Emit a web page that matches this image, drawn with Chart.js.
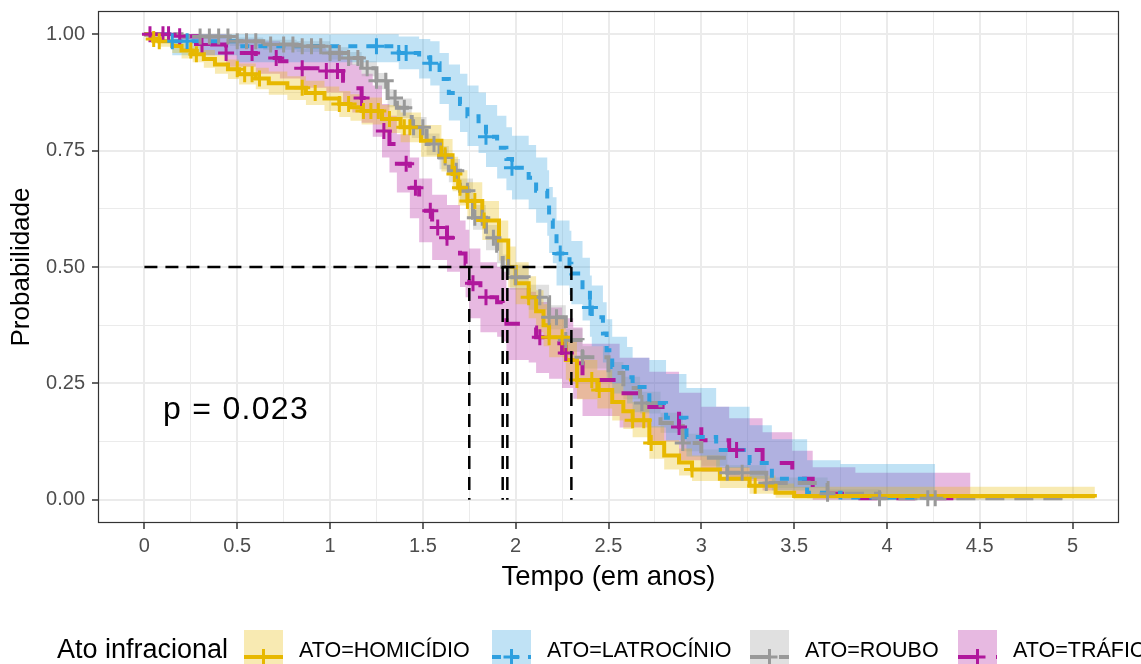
<!DOCTYPE html>
<html>
<head>
<meta charset="utf-8">
<title>Curvas de sobrevivência por ato infracional</title>
<script src="https://cdn.jsdelivr.net/npm/chart.js@4.4.1/dist/chart.umd.min.js"></script>
<style>
  html, body { margin: 0; padding: 0; background: #fff; }
  #wrap { width: 1141px; height: 664px; }
</style>
</head>
<body>
<div id="wrap"><canvas id="kmChart" width="1141" height="664"></canvas></div>
<script>
// Dados (tempo em anos, probabilidade de sobrevivência)
const groupLabels = ['ATO=HOMICÍDIO', 'ATO=LATROCÍNIO', 'ATO=ROUBO', 'ATO=TRÁFICO'];

const homTime  = [0, 0.04, 0.08, 0.15, 0.20, 0.26, 0.32, 0.38, 0.45, 0.51, 0.60, 0.67, 0.77, 0.87, 0.97, 1.05, 1.11, 1.17, 1.28, 1.38, 1.49, 1.60, 1.66, 1.69, 1.74, 1.82, 1.91, 1.96, 2.00, 2.07, 2.11, 2.15, 2.18, 2.27, 2.33, 2.44, 2.52, 2.58, 2.63, 2.72, 2.80, 2.88, 2.95, 3.10, 3.26, 3.40, 3.50, 5.12];
const homSurv  = [1, .99, .985, .975, .965, .957, .947, .935, .925, .914, .905, .895, .885, .874, .862, .85, .843, .835, .818, .80, .771, .74, .70, .67, .642, .60, .557, .50, .465, .435, .405, .375, .349, .30, .257, .236, .21, .19, .171, .122, .095, .08, .065, .045, .03, .015, .008, .005];
const homUpper = [1, 1, .995, .99, .983, .975, .966, .955, .946, .937, .928, .92, .91, .90, .888, .878, .871, .864, .848, .832, .805, .775, .737, .708, .682, .642, .60, .544, .51, .48, .45, .42, .394, .344, .30, .278, .25, .23, .21, .158, .128, .11, .095, .07, .052, .035, .028, .028];
const homLower = [1, .98, .973, .96, .948, .94, .928, .915, .904, .892, .882, .87, .859, .848, .835, .822, .814, .806, .788, .768, .737, .705, .663, .632, .602, .558, .514, .456, .42, .39, .36, .33, .306, .258, .216, .196, .17, .152, .134, .088, .065, .052, .04, .025, .013, .004, .001, 0];
const homCens  = [0.05, 0.08, 0.25, 0.28, 0.50, 0.54, 0.58, 0.62, 0.85, 0.92, 1.05, 1.10, 1.18, 1.22, 1.26, 1.32, 1.40, 1.43, 1.62, 1.67, 1.70, 1.74, 1.78, 1.83, 2.07, 2.18, 2.25, 2.33, 2.41, 2.45, 2.63, 2.69, 2.73, 2.95, 3.29];

const latTime  = [0, 0.15, 0.5, 1.37, 1.48, 1.54, 1.59, 1.64, 1.70, 1.74, 1.80, 1.84, 1.90, 1.95, 1.98, 2.07, 2.11, 2.17, 2.18, 2.20, 2.22, 2.29, 2.30, 2.36, 2.40, 2.41, 2.47, 2.49, 2.52, 2.60, 2.63, 2.72, 2.81, 2.92, 3.08, 3.26, 3.38, 3.57, 3.75, 4.26];
const latSurv  = [1, .985, .974, .96, .95, .938, .904, .874, .85, .824, .809, .78, .756, .732, .713, .692, .664, .636, .60, .578, .529, .507, .486, .45, .413, .392, .357, .321, .285, .263, .242, .208, .176, .135, .107, .079, .045, .015, .005, .005];
const latUpper = [1, 1, 1, .995, .99, .985, .96, .935, .915, .89, .875, .848, .825, .80, .782, .762, .735, .708, .672, .65, .60, .578, .556, .52, .482, .46, .424, .388, .35, .328, .305, .30, .27, .24, .20, .16, .13, .085, .077, .077];
const latLower = [1, .955, .94, .925, .905, .89, .85, .815, .79, .76, .745, .715, .69, .665, .645, .624, .595, .567, .53, .508, .46, .44, .42, .385, .35, .33, .295, .262, .228, .207, .188, .155, .127, .093, .068, .045, .02, .003, 0, 0];
const latCens  = [0.15, 0.23, 1.25, 1.37, 1.41, 1.54, 1.84, 1.98, 2.24, 2.40];

const roubTime  = [0, 0.2, 0.46, 0.64, 0.82, 1.0, 1.10, 1.17, 1.25, 1.31, 1.36, 1.44, 1.52, 1.59, 1.64, 1.70, 1.77, 1.84, 1.90, 1.93, 1.97, 2.07, 2.18, 2.27, 2.36, 2.50, 2.58, 2.67, 2.78, 2.90, 3.0, 3.14, 3.35, 3.68, 3.96, 4.95];
const roubSurv  = [1, .995, .985, .978, .974, .96, .949, .927, .90, .863, .842, .80, .764, .735, .707, .664, .606, .563, .535, .50, .478, .435, .392, .343, .306, .272, .24, .208, .165, .122, .09, .058, .036, .013, .003, .003];
const roubUpper = [1, 1, .993, .988, .985, .972, .962, .942, .917, .882, .862, .822, .787, .76, .732, .69, .633, .59, .562, .527, .505, .462, .418, .368, .33, .296, .264, .232, .187, .142, .108, .074, .048, .022, .009, .009];
const roubLower = [1, .99, .975, .967, .962, .946, .934, .91, .882, .843, .82, .777, .74, .71, .682, .638, .58, .536, .508, .473, .451, .408, .366, .318, .282, .25, .216, .185, .144, .104, .073, .045, .025, .005, 0, 0];
const roubCens  = [0.3, 0.35, 0.4, 0.45, 0.5, 0.55, 0.6, 0.68, 0.75, 0.8, 0.85, 0.9, 0.95, 1.0, 1.05, 1.1, 1.15, 1.2, 1.25, 1.3, 1.35, 1.4, 1.45, 1.5, 1.56, 1.62, 1.68, 1.74, 1.78, 1.82, 1.88, 1.96, 2.0, 2.13, 2.18, 2.22, 2.27, 2.36, 2.68, 2.9, 3.14, 3.22, 3.35, 3.68, 3.96, 4.22, 4.26];

const trafTime  = [0, 0.19, 0.31, 0.44, 0.60, 0.73, 0.84, 0.98, 1.07, 1.12, 1.17, 1.23, 1.28, 1.32, 1.36, 1.43, 1.48, 1.55, 1.63, 1.70, 1.73, 1.75, 1.81, 1.90, 1.93, 1.95, 2.07, 2.11, 2.18, 2.25, 2.31, 2.36, 2.56, 2.72, 2.88, 3.0, 3.15, 3.33, 3.49, 3.60, 3.83, 4.45];
const trafSurv  = [1, .996, .978, .96, .949, .942, .927, .921, .90, .884, .863, .835, .792, .764, .722, .67, .621, .585, .563, .529, .507, .465, .435, .424, .413, .378, .37, .349, .336, .315, .293, .257, .229, .199, .156, .128, .107, .079, .045, .013, .003, .003];
const trafUpper = [1, 1, 1, .99, .985, .98, .97, .965, .95, .935, .915, .89, .85, .825, .785, .735, .69, .655, .633, .60, .58, .54, .51, .50, .49, .455, .447, .425, .413, .39, .37, .335, .305, .275, .23, .20, .175, .145, .105, .07, .058, .058];
const trafLower = [1, .985, .955, .93, .915, .905, .885, .875, .85, .832, .81, .78, .735, .703, .66, .605, .553, .515, .49, .457, .435, .39, .36, .35, .34, .30, .295, .272, .26, .24, .217, .18, .155, .125, .085, .06, .04, .02, .005, 0, 0, 0];
const trafCens  = [0.03, 0.1, 0.13, 0.19, 0.31, 0.44, 0.58, 0.71, 0.85, 0.98, 1.04, 1.17, 1.29, 1.41, 1.46, 1.54, 1.58, 1.63, 1.77, 1.84, 2.13, 2.27, 2.88, 3.19];

// Medianas de sobrevivência (linhas tracejadas)
const medians = [1.955, 2.30, 1.93, 1.75];

// Eixos
const xMajorTicks = [0, 0.5, 1, 1.5, 2, 2.5, 3, 3.5, 4, 4.5, 5];
const yMajorTicks = [0, 0.25, 0.5, 0.75, 1];
const pText = 'p = 0.023';

// Estilos
const FONT = "'Liberation Sans', Arial, Helvetica, sans-serif";
const lineColors = ['#E7B800', '#2E9FDF', '#999999', '#B0189C'];
const bandColors = ['rgba(231,184,0,0.3)', 'rgba(46,159,223,0.3)', 'rgba(153,153,153,0.3)', 'rgba(176,24,156,0.3)'];
const lineDashes = [[], [9, 9], [19, 10], [19, 19]];

const groups = [
    { time: homTime, surv: homSurv, upper: homUpper, lower: homLower, cens: homCens },
    { time: latTime, surv: latSurv, upper: latUpper, lower: latLower, cens: latCens },
    { time: roubTime, surv: roubSurv, upper: roubUpper, lower: roubLower, cens: roubCens },
    { time: trafTime, surv: trafSurv, upper: trafUpper, lower: trafLower, cens: trafCens }
];

function survAt(g, t) {
    let s = 1;
    for (let i = 0; i < g.time.length; i++) {
        if (g.time[i] <= t) s = g.surv[i];
    }
    return s;
}

function pts(xs, ys) {
    return xs.map((x, i) => ({ x: x, y: ys[i] }));
}

const datasets = [];
groups.forEach((g, i) => {
    // faixa de confiança
    datasets.push({
        label: groupLabels[i] + ' sup', data: pts(g.time, g.upper), stepped: true,
        borderWidth: 0, pointRadius: 0, fill: '+1', backgroundColor: bandColors[i], order: 10
    });
    datasets.push({
        label: groupLabels[i] + ' inf', data: pts(g.time, g.lower), stepped: true,
        borderWidth: 0, pointRadius: 0, fill: false, order: 10
    });
});
groups.forEach((g, i) => {
    // curva de Kaplan-Meier
    datasets.push({
        label: groupLabels[i], data: pts(g.time, g.surv), stepped: true,
        borderColor: lineColors[i], borderWidth: 4, borderDash: lineDashes[i],
        borderCapStyle: 'butt', borderJoinStyle: 'miter',
        pointRadius: 0, fill: false, order: 5
    });
    // censuras
    datasets.push({
        label: groupLabels[i] + ' censura', data: g.cens.map(t => ({ x: t, y: survAt(g, t) })),
        showLine: false, pointStyle: 'cross', pointRadius: 8, pointHoverRadius: 8,
        borderColor: lineColors[i], backgroundColor: lineColors[i], borderWidth: 3, order: 3
    });
});
// linhas das medianas
datasets.push({
    label: 'mediana', data: [{ x: 0, y: 0.5 }, { x: Math.max(...medians), y: 0.5 }],
    borderColor: '#000', borderWidth: 2.5, borderDash: [13, 8], pointRadius: 0, fill: false, order: 1
});
medians.forEach(m => {
    datasets.push({
        label: 'mediana', data: [{ x: m, y: 0.5 }, { x: m, y: 0 }],
        borderColor: '#000', borderWidth: 2.5, borderDash: [13, 8], pointRadius: 0, fill: false, order: 1
    });
});

const isMajor = (v, step) => Math.abs(v / step - Math.round(v / step)) < 1e-9;

// Painel, valor p e legenda
const extras = {
    id: 'extras',
    afterDraw(chart) {
        const ctx = chart.ctx;
        const a = chart.chartArea;
        const xs = chart.scales.x, ys = chart.scales.y;
        ctx.save();
        ctx.strokeStyle = '#333333';
        ctx.lineWidth = 1.2;
        ctx.strokeRect(a.left + 0.5, a.top + 0.5, a.right - a.left - 1, a.bottom - a.top - 1);

        ctx.fillStyle = '#000';
        ctx.font = '32px ' + FONT;
        ctx.textAlign = 'left';
        ctx.textBaseline = 'middle';
        ctx.letterSpacing = '1.3px';
        ctx.fillText(pText, xs.getPixelForValue(0.1), ys.getPixelForValue(0.2) + 4);
        ctx.letterSpacing = '0px';

        // legenda
        const boxX = [244, 492, 750, 958];
        const midY = 657;
        ctx.font = '27px ' + FONT;
        ctx.fillText('Ato infracional', 57, 651);
        groupLabels.forEach((lab, i) => {
            const bx = boxX[i];
            ctx.fillStyle = bandColors[i];
            ctx.fillRect(bx, 630, 39, 54);
            ctx.strokeStyle = lineColors[i];
            ctx.lineWidth = 4;
            ctx.lineCap = 'butt';
            ctx.setLineDash(lineDashes[i]);
            ctx.beginPath();
            ctx.moveTo(bx, midY);
            ctx.lineTo(bx + 39, midY);
            ctx.stroke();
            ctx.setLineDash([]);
            ctx.lineWidth = 3;
            ctx.beginPath();
            ctx.moveTo(bx + 19.5 - 8, midY);
            ctx.lineTo(bx + 19.5 + 8, midY);
            ctx.moveTo(bx + 19.5, midY - 8);
            ctx.lineTo(bx + 19.5, midY + 8);
            ctx.stroke();
            ctx.fillStyle = '#000';
            ctx.font = '21.5px ' + FONT;
            ctx.fillText(lab, bx + 55, 651);
        });
        ctx.restore();
    }
};

const ctx = document.getElementById('kmChart').getContext('2d');
new Chart(ctx, {
    type: 'line',
    data: { datasets: datasets },
    plugins: [extras],
    options: {
        responsive: false,
        animation: false,
        devicePixelRatio: 1,
        layout: { padding: { top: 10, right: 22, left: 0, bottom: 0 } },
        plugins: {
            legend: { display: false },
            tooltip: { enabled: false }
        },
        scales: {
            x: {
                type: 'linear', min: -0.25, max: 5.25,
                afterBuildTicks: s => {
                    const t = [];
                    for (let k = 0; k < xMajorTicks.length; k++) {
                        t.push({ value: xMajorTicks[k] });
                        if (k < xMajorTicks.length - 1) t.push({ value: xMajorTicks[k] + 0.25 });
                    }
                    s.ticks = t;
                },
                afterFit: s => {
                    s.height = 141;
                    s.paddingLeft = 0; s.paddingRight = 0; s.paddingTop = 0; s.paddingBottom = 0;
                },
                ticks: {
                    autoSkip: false, maxRotation: 0, padding: 5,
                    color: '#4D4D4D', font: { size: 20, family: FONT },
                    callback: v => isMajor(v, 0.5) ? String(v) : ''
                },
                grid: {
                    color: '#EBEBEB',
                    lineWidth: c => (c.tick && isMajor(c.tick.value, 0.5)) ? 2 : 1,
                    tickColor: c => (c.tick && isMajor(c.tick.value, 0.5)) ? '#333333' : 'rgba(0,0,0,0)',
                    tickLength: 6, tickWidth: 1.5
                },
                border: { display: false },
                title: {
                    display: true, text: 'Tempo (em anos)', color: '#000',
                    font: { size: 27.5, family: FONT }, padding: { top: 0, bottom: 70 }
                }
            },
            y: {
                type: 'linear', min: -0.05, max: 1.05,
                afterBuildTicks: s => {
                    const t = [];
                    for (let k = 0; k < yMajorTicks.length; k++) {
                        t.push({ value: yMajorTicks[k] });
                        if (k < yMajorTicks.length - 1) t.push({ value: yMajorTicks[k] + 0.125 });
                    }
                    s.ticks = t;
                },
                afterFit: s => {
                    s.width = 98;
                    s.paddingLeft = 0; s.paddingRight = 0; s.paddingTop = 0; s.paddingBottom = 0;
                },
                ticks: {
                    autoSkip: false, padding: 7,
                    color: '#4D4D4D', font: { size: 20, family: FONT },
                    callback: v => isMajor(v, 0.25) ? v.toFixed(2) : ''
                },
                grid: {
                    color: '#EBEBEB',
                    lineWidth: c => (c.tick && isMajor(c.tick.value, 0.25)) ? 2 : 1,
                    tickColor: c => (c.tick && isMajor(c.tick.value, 0.25)) ? '#333333' : 'rgba(0,0,0,0)',
                    tickLength: 6, tickWidth: 1.5
                },
                border: { display: false },
                title: {
                    display: true, text: 'Probabilidade', color: '#000',
                    font: { size: 26, family: FONT }, padding: { top: 6, bottom: 0 }
                }
            }
        }
    }
});
</script>
</body>
</html>
